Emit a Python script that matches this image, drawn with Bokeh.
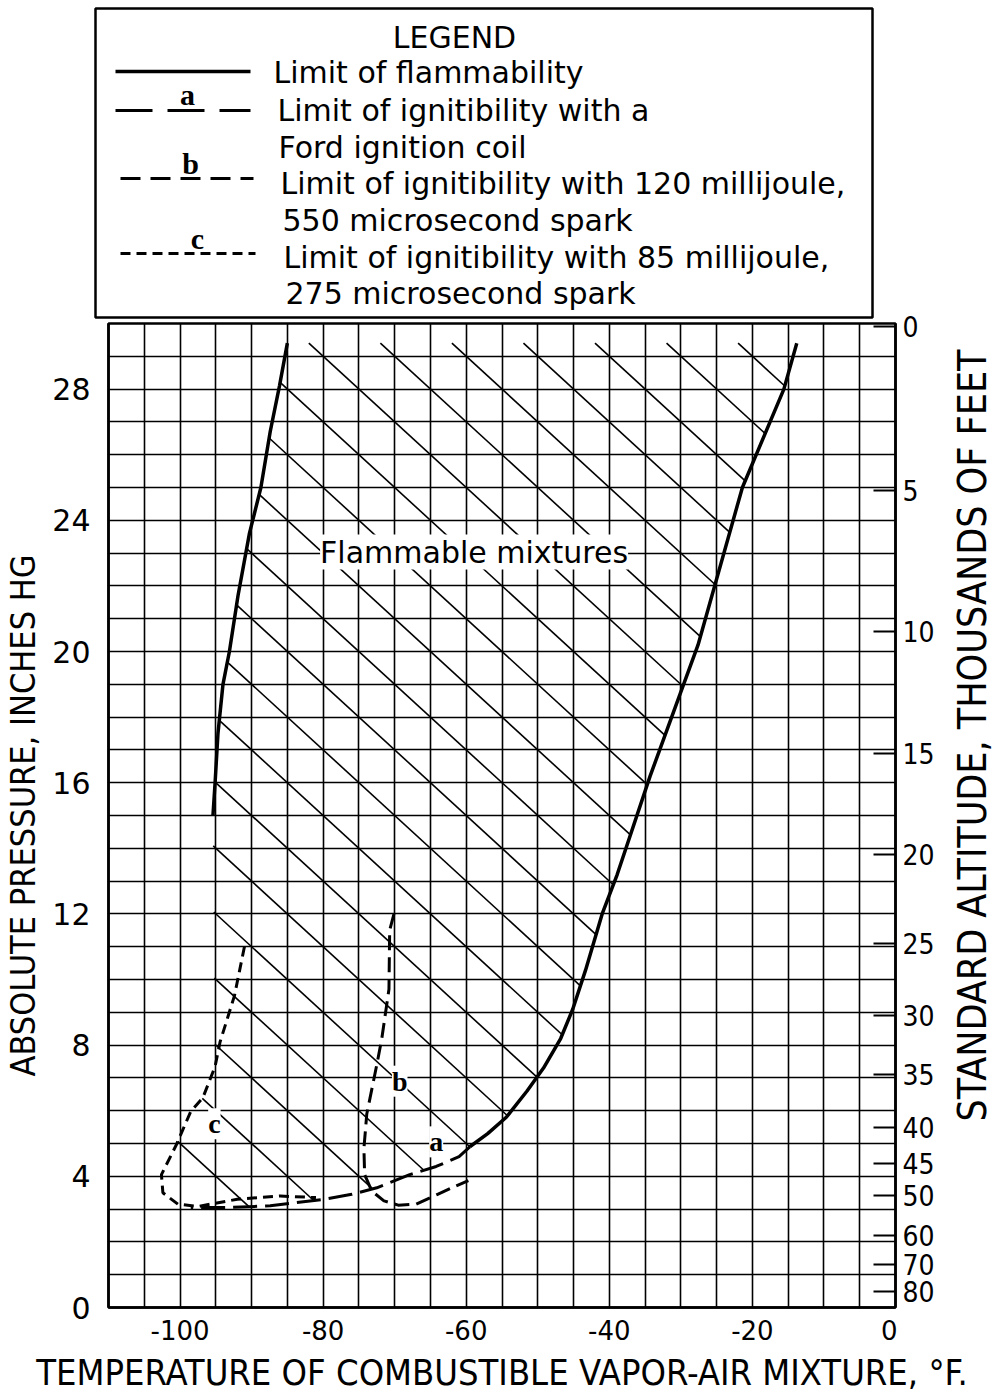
import math
from bokeh.plotting import figure
from bokeh.models import Range1d, LinearAxis, FixedTicker, SingleIntervalTicker, Label
from bokeh.layouts import column, row
from bokeh.embed import file_html
from bokeh.resources import INLINE
from bokeh.core.properties import value

# ---------------- data ----------------
# Limit of flammability (solid), left and right branches: temperature (F), pressure (in Hg)
flam_left_x = [-85.0, -86.1, -87.4, -88.7, -90.3, -91.9, -93.1, -94.0, -94.7, -95.1, -95.4]
flam_left_y = [29.4, 28.1, 26.7, 25.0, 23.6, 21.7, 20.0, 19.0, 17.5, 16.0, 15.0]
flam_right_x = [-13.8, -15.6, -21.4, -27.6, -34.3, -38.9, -41.0, -43.3, -45.1, -46.8,
                -49.2, -51.5, -54.4, -57.0, -59.5]
flam_right_y = [29.4, 28.0, 25.0, 20.2, 16.2, 13.2, 12.0, 10.3, 9.1, 8.2,
                7.3, 6.6, 5.8, 5.3, 4.9]
# curve a: limit of ignitibility with a Ford ignition coil
curve_a_x = [-59.5, -61.0, -64.2, -67.9, -72.5, -76.0, -79.9, -87.4, -93.0, -98.5]
curve_a_y = [4.9, 4.6, 4.3, 4.05, 3.65, 3.45, 3.3, 3.1, 3.05, 3.05]
# curve b: 120 millijoule, 550 microsecond spark
curve_b_x = [-70.1, -70.7, -70.8, -71.8, -72.5, -73.9, -74.3, -74.2, -73.2, -71.5,
             -69.5, -67.0, -64.0, -61.5, -59.7]
curve_b_y = [12.0, 11.5, 9.7, 8.2, 7.4, 5.9, 4.85, 4.05, 3.55, 3.25,
             3.12, 3.15, 3.45, 3.7, 3.87]
# curve c: 85 millijoule, 275 microsecond spark
curve_c_x = [-91.0, -92.4, -94.4, -95.1, -96.8, -98.5, -100.5, -102.6, -102.4, -100.3,
             -97.5, -92.0, -86.0, -81.0]
curve_c_y = [11.0, 9.5, 8.1, 7.35, 6.4, 5.98, 4.97, 4.05, 3.5, 3.15,
             3.08, 3.3, 3.4, 3.35]

curve_labels = ["a", "b", "c"]
curve_label_x = [-64.2, -69.3, -95.2]
curve_label_y = [5.05, 6.9, 5.6]
region_label = "Flammable mixtures"
region_label_x = -58.9
region_label_y = 23.03

x_tick_values = [-100, -80, -60, -40, -20, 0]
x_tick_labels = ["-100", "-80", "-60", "-40", "-20", "0"]
y_tick_values = [0, 4, 8, 12, 16, 20, 24, 28]
y_tick_labels = ["0", "4", "8", "12", "16", "20", "24", "28"]
alt_pressure = [29.92, 24.9, 20.6, 16.9, 13.8, 11.1, 8.9, 7.1, 5.5, 4.4, 3.4, 2.2, 1.3, 0.5]
alt_labels = ["0", "5", "10", "15", "20", "25", "30", "35", "40", "45", "50", "60", "70", "80"]

x_title = "TEMPERATURE OF COMBUSTIBLE VAPOR-AIR MIXTURE, °F."
y_title = "ABSOLUTE PRESSURE, INCHES HG"
alt_title = "STANDARD ALTITUDE, THOUSANDS OF FEET"

legend_title = "LEGEND"
legend_texts = ["Limit of flammability",
                "Limit of ignitibility with a",
                "Ford ignition coil",
                "Limit of ignitibility with 120 millijoule,",
                "550 microsecond spark",
                "Limit of ignitibility with 85 millijoule,",
                "275 microsecond spark"]

NARROW = "DejaVu Sans Condensed, Liberation Sans, sans-serif"
SANS = "DejaVu Sans"
SERIF = "Liberation Serif"

# ---------------- layout geometry (pixels) ----------------
LEFT_W, SIDE_W, TOTAL_W = 897, 100, 997
FRAME_H = 984
LEG_H, BORDER_TOP, BORDER_BOTTOM = 320, 3, 43
MAIN_H = BORDER_TOP + FRAME_H + BORDER_BOTTOM
BOTTOM_H = 1393 - LEG_H - MAIN_H
FRAME_TOP = LEG_H + BORDER_TOP
PX_PER_INHG = FRAME_H / 30.0

# ---------------- legend panel (coordinates = pixels of the panel) ----------------
leg = figure(width=LEFT_W, height=LEG_H, x_range=Range1d(0, LEFT_W), y_range=Range1d(LEG_H, 0),
             output_backend="svg", toolbar_location=None, x_axis_type=None, y_axis_type=None,
             min_border=0, outline_line_color=None)
leg.grid.visible = False
leg.quad(left=95, right=872, top=8, bottom=317, fill_color=None,
         line_color="black", line_width=2.5)
leg.text(x=[454], y=[37], text=[legend_title], text_font=value(SANS), text_font_size="30px",
         text_align="center", text_baseline="middle", text_color="black")
leg.text(x=[273, 277, 278, 280, 282, 283, 285], y=[72, 110, 147, 183, 220, 257, 293],
         text=legend_texts, text_font=value(SANS), text_font_size="30px",
         text_align="left", text_baseline="middle", text_color="black")
leg.line(x=[115, 250], y=[71, 71], line_color="black", line_width=3.5)
leg.line(x=[115, 250], y=[110, 110], line_color="black", line_width=3, line_dash="37 15")
leg.line(x=[120, 253], y=[178, 178], line_color="black", line_width=3, line_dash="20 10")
leg.line(x=[120, 255], y=[253, 253], line_color="black", line_width=3, line_dash="10 6")
leg.text(x=[187, 190, 197], y=[94, 163, 238], text=curve_labels, text_font=value(SERIF),
         text_font_size="30px", text_font_style="bold", text_align="center",
         text_baseline="middle", text_color="black")

# ---------------- main chart ----------------
p = figure(width=LEFT_W, height=MAIN_H, x_range=Range1d(-110, 0), y_range=Range1d(0, 30),
           output_backend="svg", toolbar_location=None,
           min_border_left=108, min_border_right=2, min_border_top=BORDER_TOP,
           min_border_bottom=BORDER_BOTTOM, y_axis_label=y_title)
p.outline_line_color = "black"
p.outline_line_width = 2.5
p.background_fill_color = "white"

p.xgrid.ticker = SingleIntervalTicker(interval=5)
p.ygrid.ticker = SingleIntervalTicker(interval=1)
p.grid.grid_line_color = "black"
p.grid.grid_line_width = 1.6
p.grid.grid_line_alpha = 1.0

p.xaxis.ticker = FixedTicker(ticks=x_tick_values)
p.xaxis.major_label_overrides = dict(zip(x_tick_values, x_tick_labels))
p.yaxis.ticker = FixedTicker(ticks=y_tick_values)
p.yaxis.major_label_overrides = dict(zip(y_tick_values, y_tick_labels))

for ax in (p.xaxis[0], p.yaxis[0]):
    ax.major_tick_out = 0
    ax.major_tick_in = 0
    ax.minor_tick_out = 0
    ax.minor_tick_in = 0
    ax.axis_line_color = "black"
    ax.axis_line_width = 2.5
    ax.major_label_text_font = SANS
    ax.major_label_text_color = "black"
    ax.axis_label_text_font = NARROW
    ax.axis_label_text_font_style = "normal"
    ax.axis_label_text_color = "black"

p.xaxis.major_label_text_font_size = "26px"
p.xaxis.major_label_standoff = 12
p.yaxis.major_label_text_font_size = "30px"
p.yaxis.major_label_standoff = 18
p.yaxis.axis_label_text_font_size = "34px"
p.yaxis.axis_label_standoff = 6

# right-hand altitude ticks (pointing into the chart); their labels sit in the side strip
p.extra_y_ranges = {"alt": Range1d(0, 30)}
ax_r = LinearAxis(y_range_name="alt", ticker=FixedTicker(ticks=alt_pressure))
ax_r.major_tick_in = 22
ax_r.major_tick_out = 0
ax_r.minor_tick_in = 0
ax_r.minor_tick_out = 0
ax_r.major_tick_line_width = 2
ax_r.major_tick_line_color = "black"
ax_r.axis_line_color = "black"
ax_r.axis_line_width = 2.5
ax_r.major_label_text_font_size = "0px"
ax_r.major_label_text_color = None
ax_r.major_label_standoff = 0
p.add_layout(ax_r, "right")

# ---- hatching of the flammable region (lines x + 5y = const, every 10 F) ----
poly_x = (flam_right_x + curve_a_x[1:] + curve_c_x[9:2:-1] + flam_left_x[::-1])
poly_y = (flam_right_y + curve_a_y[1:] + curve_c_y[9:2:-1] + flam_left_y[::-1])
n = len(poly_x)
fvals = [poly_x[i] + 5 * poly_y[i] for i in range(n)]
hx0, hy0, hx1, hy1 = [], [], [], []
k = 10 * math.floor((min(fvals) - 5) / 10) + 5
while k <= max(fvals):
    pts = []
    for i in range(n):
        j = (i + 1) % n
        a, b = fvals[i] - k, fvals[j] - k
        if (a < 0 <= b) or (b < 0 <= a):
            t = a / (a - b)
            pts.append((poly_x[i] + t * (poly_x[j] - poly_x[i]),
                        poly_y[i] + t * (poly_y[j] - poly_y[i])))
    pts.sort()
    for m in range(0, len(pts) - 1, 2):
        hx0.append(pts[m][0]); hy0.append(pts[m][1])
        hx1.append(pts[m + 1][0]); hy1.append(pts[m + 1][1])
    k += 10
p.segment(x0=hx0, y0=hy0, x1=hx1, y1=hy1, line_color="black", line_width=1.6)

# ---- curves ----
p.line(flam_left_x, flam_left_y, line_color="black", line_width=3.5)
p.line(flam_right_x, flam_right_y, line_color="black", line_width=3.5)
p.line(curve_a_x, curve_a_y, line_color="black", line_width=3, line_dash="24 8")
p.line(curve_b_x, curve_b_y, line_color="black", line_width=3, line_dash="15 7")
p.line(curve_c_x, curve_c_y, line_color="black", line_width=3, line_dash="10 6")

for txt, lx, ly in zip(curve_labels, curve_label_x, curve_label_y):
    p.add_layout(Label(x=lx, y=ly, text=txt, text_align="center", text_baseline="middle",
                       text_font=SERIF, text_font_style="bold", text_font_size="28px",
                       text_color="black", background_fill_color="white"))
p.add_layout(Label(x=region_label_x, y=region_label_y, text=region_label,
                   text_align="center", text_baseline="middle", text_font=SANS,
                   text_font_size="30px", text_color="black",
                   background_fill_color="white"))

# ---------------- right strip: altitude labels + title, on the same pressure scale ----------------
side_h = LEG_H + MAIN_H
side = figure(width=SIDE_W, height=side_h, x_range=Range1d(0, SIDE_W),
              y_range=Range1d(30 - (side_h - FRAME_TOP) / PX_PER_INHG,
                              30 + FRAME_TOP / PX_PER_INHG),
              output_backend="svg", toolbar_location=None, x_axis_type=None, y_axis_type=None,
              min_border=0, outline_line_color=None)
side.grid.visible = False
side.text(x=[5] * len(alt_pressure), y=alt_pressure, text=alt_labels, text_font=value(NARROW),
          text_font_size="28px", text_align="left", text_baseline="middle", text_color="black")
side.text(x=[75], y=[30 - (735 - FRAME_TOP) / PX_PER_INHG], text=[alt_title],
          angle=math.pi / 2, text_font=value(NARROW), text_font_size="39px",
          text_align="center", text_baseline="middle", text_color="black")

# ---------------- bottom strip: x-axis title ----------------
bottom = figure(width=TOTAL_W, height=BOTTOM_H, x_range=Range1d(0, TOTAL_W),
                y_range=Range1d(BOTTOM_H, 0), output_backend="svg", toolbar_location=None,
                x_axis_type=None, y_axis_type=None, min_border=0, outline_line_color=None)
bottom.grid.visible = False
bottom.text(x=[108 + 787 / 2], y=[BOTTOM_H / 2], text=[x_title], text_font=value(NARROW),
            text_font_size="36px", text_align="center", text_baseline="middle",
            text_color="black")

for fig in (leg, p, side, bottom):
    if "frame_align" in fig.properties():
        fig.frame_align = False

layout = column(row(column(leg, p), side), bottom)
open("out.html", "w").write(file_html(layout, INLINE))
